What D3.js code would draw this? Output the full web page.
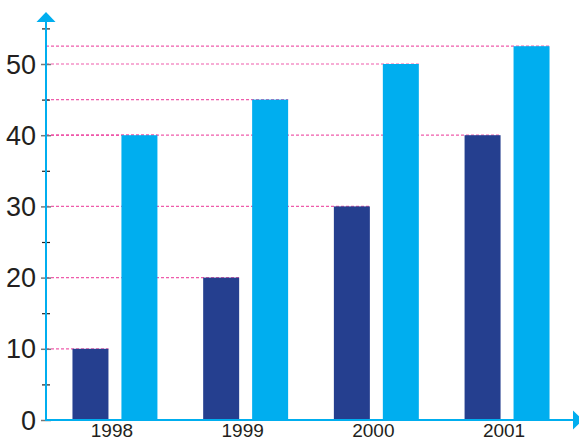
<!DOCTYPE html>
<html>
<head>
<meta charset="utf-8">
<script src="https://cdn.jsdelivr.net/npm/d3@7"></script>
<style>
  html, body { margin: 0; padding: 0; background: #fff; overflow: hidden; }
  svg { display: block; }
  .lbl { font-family: "Liberation Sans Narrow", "Arial Narrow", "Liberation Sans", Arial, sans-serif; fill: #231f20; }
</style>
</head>
<body>
<svg id="chart" width="579" height="437"></svg>
<script>
// Data
const years = ["1998", "1999", "2000", "2001"];
const seriesA = [10, 20, 30, 40];      // dark bars
const seriesB = [40, 45, 50, 52.5];    // light bars
const majorTicks = [0, 10, 20, 30, 40, 50];
const minorTicks = [5, 15, 25, 35, 45, 55];

const W = 579, H = 437;
const axisX = 46, axisY = 420;
const svg = d3.select("#chart");

const y = d3.scaleLinear().domain([0, 50]).range([axisY, 64]);
const x0 = d3.scaleBand().domain(years).range([axisX, 576])
  .paddingInner(0.35).paddingOuter(0.2025).align(0.5);
const x1 = d3.scaleBand().domain(["a", "b"]).range([0, x0.bandwidth()])
  .paddingInner(0.265).paddingOuter(0);

const colA = "#253f8f", colB = "#00aeef", axisCol = "#00aeef";

// Guide lines from the axis to each bar top, drawn behind the bars
const guides = [];
years.forEach((yr, i) => {
  guides.push({ v: seriesA[i], xEnd: x0(yr) + x1("a") + x1.bandwidth() });
  guides.push({ v: seriesB[i], xEnd: x0(yr) + x1("b") + x1.bandwidth() });
});
svg.append("g").selectAll("line").data(guides).join("line")
  .attr("x1", axisX).attr("x2", d => d.xEnd)
  .attr("y1", d => y(d.v)).attr("y2", d => y(d.v))
  .attr("stroke", "#ec3f9c").attr("stroke-width", 1.2)
  .attr("stroke-opacity", 0.85)
  .attr("stroke-dasharray", "3,2");

// Bars
const groups = svg.append("g").selectAll("g").data(years).join("g")
  .attr("transform", d => `translate(${x0(d)},0)`);
groups.append("rect")
  .attr("x", x1("a")).attr("width", x1.bandwidth())
  .attr("y", (d, i) => y(seriesA[i]))
  .attr("height", (d, i) => axisY - y(seriesA[i]))
  .attr("fill", colA);
groups.append("rect")
  .attr("x", x1("b")).attr("width", x1.bandwidth())
  .attr("y", (d, i) => y(seriesB[i]))
  .attr("height", (d, i) => axisY - y(seriesB[i]))
  .attr("fill", colB);

// Y axis: minor ticks
const yMinor = svg.append("g").attr("transform", `translate(${axisX},0)`)
  .call(d3.axisLeft(y).tickValues(minorTicks).tickSizeInner(4).tickSizeOuter(0).tickFormat(""));
yMinor.select(".domain").remove();
yMinor.selectAll(".tick line").attr("x1", 4).attr("stroke", "#222").attr("stroke-width", 1.2);

// Y axis: major ticks with labels
const yMajor = svg.append("g").attr("transform", `translate(${axisX},0)`)
  .call(d3.axisLeft(y).tickValues(majorTicks).tickSizeInner(5).tickSizeOuter(0).tickPadding(5));
yMajor.select(".domain").remove();
yMajor.selectAll(".tick line").attr("x1", 5).attr("stroke", "#777").attr("stroke-width", 1.5);
yMajor.selectAll(".tick text").attr("class", "lbl")
  .attr("font-size", 27).attr("dy", "0.34em");

// Axis lines with arrowheads
svg.append("line").attr("x1", axisX).attr("x2", axisX)
  .attr("y1", axisY + 1).attr("y2", 20)
  .attr("stroke", axisCol).attr("stroke-width", 2);
svg.append("path")
  .attr("d", `M${axisX - 9.5},${22} L${axisX},${12} L${axisX + 9.5},${22} Z`)
  .attr("fill", axisCol);
svg.append("line").attr("x1", axisX - 1).attr("x2", 575)
  .attr("y1", axisY).attr("y2", axisY)
  .attr("stroke", axisCol).attr("stroke-width", 2);
svg.append("path")
  .attr("d", `M${573},${axisY - 9.5} L${583},${axisY} L${573},${axisY + 9.5} Z`)
  .attr("fill", axisCol);

// Category labels
svg.append("g").selectAll("text").data(years).join("text")
  .attr("class", "lbl")
  .attr("x", d => x0(d) + x0.bandwidth() / 2 - 3)
  .attr("y", 436.5)
  .attr("text-anchor", "middle")
  .attr("font-size", 19)
  .text(d => d);
</script>
</body>
</html>
